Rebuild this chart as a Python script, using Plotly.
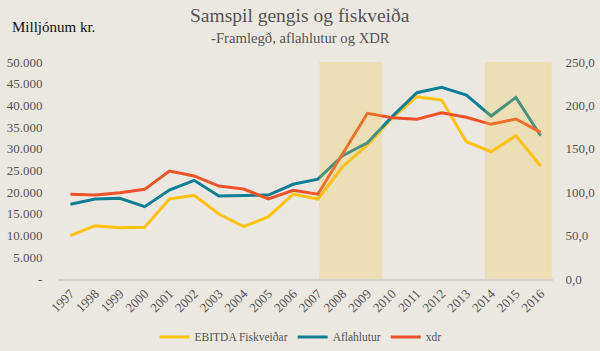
import plotly.graph_objects as go

years = list(range(1997, 2017))
ebitda = [9980, 12280, 11820, 11910, 18430, 19280, 14980, 12050, 14350, 19580,
          18430, 25870, 30870, 37090, 42000, 41240, 31630, 29330, 33020, 26040]
aflahlutur = [17210, 18430, 18590, 16660, 20510, 22740, 19120, 19190, 19350, 21820,
              23000, 28400, 31400, 37400, 42920, 44170, 42390, 37560, 41860, 33020]
xdr = [97.6, 96.8, 99.4, 103.3, 124.4, 118.7, 107.1, 103.7, 92.2, 102.2,
       97.7, 145.0, 190.9, 185.8, 184.0, 191.6, 186.3, 178.2, 184.3, 169.0]

left_ticks = [0, 5000, 10000, 15000, 20000, 25000, 30000, 35000, 40000, 45000, 50000]
left_text = ["-", "5.000", "10.000", "15.000", "20.000", "25.000", "30.000",
             "35.000", "40.000", "45.000", "50.000"]
right_ticks = [0, 50, 100, 150, 200, 250]
right_text = ["0,0", "50,0", "100,0", "150,0", "200,0", "250,0"]

# shaded periods (in year units)
shaded = [(2007.05, 2009.6), (2013.75, 2016.45)]

FONT = "Liberation Serif"
fig = go.Figure()
fig.add_trace(go.Scatter(x=years, y=ebitda, name="EBITDA Fiskveiðar", mode="lines",
                         line=dict(color="#ffc20e", width=3)))
fig.add_trace(go.Scatter(x=years, y=aflahlutur, name="Aflahlutur", mode="lines",
                         line=dict(color="#107f93", width=3)))
fig.add_trace(go.Scatter(x=years, y=xdr, name="xdr", mode="lines", yaxis="y2",
                         line=dict(color="#ef5228", width=3)))

for x0, x1 in shaded:
    fig.add_shape(type="rect", xref="x", yref="y", x0=x0, x1=x1, y0=0, y1=50000,
                  fillcolor="rgba(240,195,60,0.27)", line=dict(width=0), layer="above")

fig.update_layout(
    width=600, height=351,
    margin=dict(l=58, r=47, t=62, b=72, autoexpand=False),
    paper_bgcolor="#ebe8e2", plot_bgcolor="#ebe8e2",
    font=dict(family=FONT, color="#555555", size=13),
    showlegend=True,
    legend=dict(orientation="h", x=0.49, xanchor="center", y=0.04, yanchor="middle",
                yref="container",
                font=dict(family=FONT, size=11.5, color="#555555"),
                bgcolor="rgba(0,0,0,0)", tracegroupgap=0),
    xaxis=dict(range=[1996.5, 2016.5], tickvals=years, ticktext=[str(y) for y in years],
               tickangle=-45, showgrid=False, zeroline=False, showline=True,
               linecolor="#d6d3ce", linewidth=2, ticks="", automargin=False,
               tickfont=dict(family=FONT, size=13, color="#555555")),
    yaxis=dict(range=[0, 50000], tickvals=left_ticks, ticktext=left_text,
               showgrid=False, zeroline=False, showline=False, ticks="outside",
               ticklen=12, tickcolor="rgba(0,0,0,0)", automargin=False,
               tickfont=dict(family=FONT, size=13, color="#555555")),
    yaxis2=dict(range=[0, 250], tickvals=right_ticks, ticktext=right_text,
                overlaying="y", side="right", showgrid=False, zeroline=False,
                ticks="outside", ticklen=9, tickcolor="rgba(0,0,0,0)", automargin=False,
                tickfont=dict(family=FONT, size=13, color="#555555")),
    annotations=[
        dict(text="Samspil gengis og fiskveiða", xref="paper", yref="paper",
             x=0.489, y=1.0, yshift=47, xanchor="center", yanchor="middle", showarrow=False,
             font=dict(family=FONT, size=19.5, color="#555555")),
        dict(text="-Framlegð, aflahlutur og XDR", xref="paper", yref="paper",
             x=0.489, y=1.0, yshift=24, xanchor="center", yanchor="middle", showarrow=False,
             font=dict(family=FONT, size=14.7, color="#555555")),
        dict(text="Milljónum kr.", xref="paper", yref="paper",
             x=0, xshift=-48, y=1.0, yshift=35, xanchor="left", yanchor="middle",
             showarrow=False, font=dict(family=FONT, size=15, color="#111111")),
    ],
)

fig.write_html("out.html")
